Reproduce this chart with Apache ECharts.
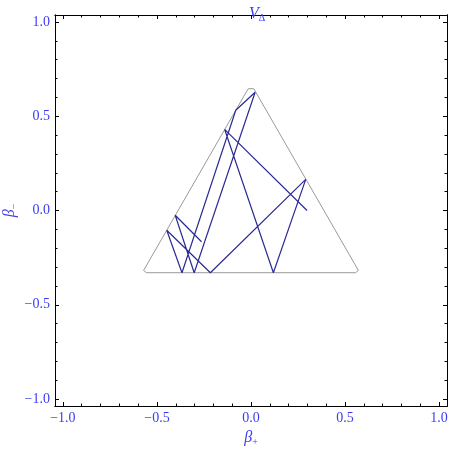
<!DOCTYPE html>
<html>
<head>
<meta charset="utf-8">
<script src="https://cdn.jsdelivr.net/npm/echarts@6/dist/echarts.min.js"></script>
<style>
  html, body { margin: 0; padding: 0; background: #fff; }
  #chart { width: 450px; height: 449px; }
</style>
</head>
<body>
<div id="chart"></div>
<script>
// tick marks on the frame
const majorTicks = [-1, -0.5, 0, 0.5, 1];
const minorTicks = [-0.9, -0.8, -0.7, -0.6, -0.4, -0.3, -0.2, -0.1,
                    0.1, 0.2, 0.3, 0.4, 0.6, 0.7, 0.8, 0.9];

// triangular wall, corners slightly rounded
const wallX = [-0.015, -0.571, -0.566, -0.556, 0.556, 0.566, 0.571, 0.015, -0.015];
const wallY = [0.646, -0.318, -0.327, -0.33, -0.33, -0.327, -0.318, 0.646, 0.646];

// bouncing trajectory
const pathX = [-0.263, -0.403, -0.302, 0.022, -0.081, -0.367, -0.448, -0.216, 0.291, 0.119, -0.14, 0.298];
const pathY = [-0.166, -0.025, -0.33, 0.627, 0.532, -0.33, -0.105, -0.33, 0.165, -0.33, 0.43, 0.0];

const labelColor = '#3c3cf5';
const serif = 'Liberation Serif';

const zip = (xs, ys) => xs.map((x, i) => [x, ys[i]]);

function fmt(v) {
  return (v < 0 ? '\u2212' : '') + Math.abs(v).toFixed(1);
}

// one axis = one side of the frame; major and minor ticks on separate axes
function frameAxis(position, ticks, len, withLabels, range) {
  return {
    type: 'value',
    position: position,
    min: range[0],
    max: range[1],
    splitLine: { show: false },
    axisLine: { show: true, onZero: false, lineStyle: { color: '#000', width: 1 } },
    axisTick: {
      show: true,
      inside: true,
      length: len,
      customValues: ticks,
      lineStyle: { color: '#000', width: 1 }
    },
    axisLabel: withLabels ? {
      show: true,
      customValues: majorTicks,
      formatter: fmt,
      color: labelColor,
      fontFamily: serif,
      fontSize: 14,
      margin: 5
    } : { show: false }
  };
}

const nameRich = {
  i: { fontFamily: serif, fontStyle: 'italic', fontWeight: 'normal', fontSize: 16, color: labelColor, lineHeight: 18 },
  s: { fontFamily: serif, fontWeight: 'normal', fontSize: 10, color: labelColor, lineHeight: 8, verticalAlign: 'bottom' }
};

const xr = [-1.042, 1.042];
const yr = [-1.037, 1.037];

const xb = frameAxis('bottom', majorTicks, 4, true, xr);
xb.name = '{i|\u03b2}{s|+}';
xb.nameLocation = 'middle';
xb.nameGap = 21;
xb.nameTextStyle = { rich: nameRich };

const yl = frameAxis('left', majorTicks, 4, true, yr);
yl.name = '{i|\u03b2}{s|\u2212}';
yl.nameLocation = 'middle';
yl.nameRotate = 90;
yl.nameGap = 36;
yl.nameMoveOverlap = false;
yl.nameTextStyle = { rich: nameRich };

const chart = echarts.init(document.getElementById('chart'), null, { renderer: 'canvas' });
chart.setOption({
  animation: false,
  backgroundColor: '#fff',
  title: {
    text: '{i|V}{s|\u0394}',
    left: 252,
    top: 0,
    textAlign: 'center',
    textStyle: { fontWeight: 'normal', rich: nameRich }
  },
  grid: { left: 55, right: 3, top: 15, bottom: 43, containLabel: false, outerBoundsMode: 'none' },
  xAxis: [
    xb,
    frameAxis('bottom', minorTicks, 2.5, false, xr),
    frameAxis('top', majorTicks, 4, false, xr),
    frameAxis('top', minorTicks, 2.5, false, xr)
  ],
  yAxis: [
    yl,
    frameAxis('left', minorTicks, 2.5, false, yr),
    frameAxis('right', majorTicks, 4, false, yr),
    frameAxis('right', minorTicks, 2.5, false, yr)
  ],
  series: [
    {
      name: 'wall',
      type: 'line',
      xAxisIndex: 0,
      yAxisIndex: 0,
      data: zip(wallX, wallY),
      showSymbol: false,
      symbol: 'none',
      lineStyle: { color: '#9a9a9a', width: 1 },
      silent: true
    },
    {
      name: 'trajectory',
      type: 'line',
      xAxisIndex: 0,
      yAxisIndex: 0,
      data: zip(pathX, pathY),
      showSymbol: false,
      symbol: 'none',
      lineStyle: { color: '#2a2a95', width: 1.2 },
      silent: true
    }
  ]
});
</script>
</body>
</html>
